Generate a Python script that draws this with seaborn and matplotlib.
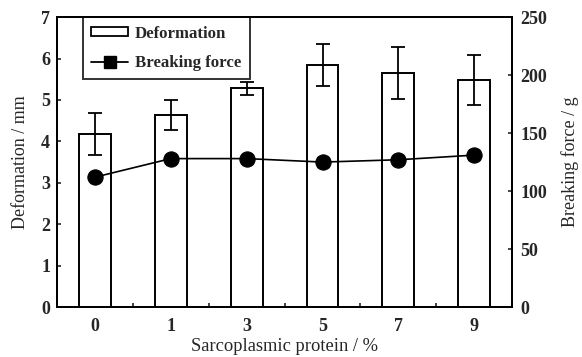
import matplotlib
matplotlib.use("Agg")
import matplotlib.pyplot as plt
import seaborn as sns
import pandas as pd
from matplotlib.patches import Patch
from matplotlib.lines import Line2D

categories = ["0", "1", "3", "5", "7", "9"]
deformation = [4.18, 4.63, 5.28, 5.84, 5.66, 5.48]
deformation_err = [0.50, 0.36, 0.15, 0.50, 0.63, 0.61]
breaking_force = [112, 128, 128, 125, 127, 131]
breaking_err = [2, 3, 2, 4, 3, 4]

sns.set_theme(style="ticks")
plt.rcParams['font.family'] = ['Liberation Serif', 'DejaVu Serif']

df = pd.DataFrame({"cat": categories, "deformation": deformation,
                   "force": breaking_force})

fig = plt.figure(figsize=(5.82, 3.57), dpi=100)
ax = fig.add_axes([0.098, 0.14, 0.782, 0.812])

sns.barplot(data=df, x="cat", y="deformation", order=categories, ax=ax,
            color="white", edgecolor="black", linewidth=1.4, width=0.42,
            errorbar=None)
xs = range(len(categories))
ax.errorbar(xs, deformation, yerr=deformation_err, fmt="none",
            ecolor="black", elinewidth=1.3, capsize=5, capthick=1.3, zorder=3)

ax2 = ax.twinx()
sns.lineplot(x=list(xs), y=breaking_force, ax=ax2, color="black",
             linewidth=1.2, marker="o", markersize=11, markeredgecolor="black",
             zorder=4)
ax2.errorbar(xs, breaking_force, yerr=breaking_err, fmt="none",
             ecolor="black", elinewidth=1.2, capsize=4, zorder=4)

ax.set_xlim(-0.5, 5.5)
ax.set_ylim(0, 7)
ax2.set_ylim(0, 250)
ax.set_yticks(range(0, 8))
ax2.set_yticks(range(0, 251, 50))

ax.set_xlabel("Sarcoplasmic protein / %", fontsize=13.3, labelpad=2)
ax.set_ylabel("Deformation / mm", fontsize=13, labelpad=9)
ax2.set_ylabel("Breaking force / g", fontsize=13, labelpad=10)

for a in (ax, ax2):
    for sp in a.spines.values():
        sp.set_visible(True)
        sp.set_linewidth(1.4)
        sp.set_color("black")

ax.tick_params(axis="x", which="major", length=0, labelsize=13, pad=8)
ax.set_xticks([0.5, 1.5, 2.5, 3.5, 4.5], minor=True)
ax.tick_params(axis="x", which="minor", direction="in", length=3, width=1.2)
ax.tick_params(axis="y", direction="in", length=3, width=1.2, labelsize=13, pad=5)
ax2.tick_params(axis="y", direction="in", length=3, width=1.2, labelsize=13, pad=6)
for lab in ax.get_xticklabels() + ax.get_yticklabels() + ax2.get_yticklabels():
    lab.set_fontweight("bold")

handles = [Patch(facecolor="white", edgecolor="black", linewidth=1.3),
           Line2D([0], [0], color="black", marker="s", markersize=8, linewidth=1.3)]
leg = ax.legend(handles, ["Deformation", "Breaking force"], loc="upper left",
                bbox_to_anchor=(0.057, 1.0), frameon=True, fancybox=False,
                edgecolor="black", borderaxespad=0, borderpad=0.5,
                handlelength=2.2, handleheight=0.5, handletextpad=0.4,
                labelspacing=0.8, prop={"weight": "bold", "size": 12.1})
leg.get_frame().set_linewidth(1.4)
leg.set_zorder(10)

fig.savefig("out.png", dpi=100)
